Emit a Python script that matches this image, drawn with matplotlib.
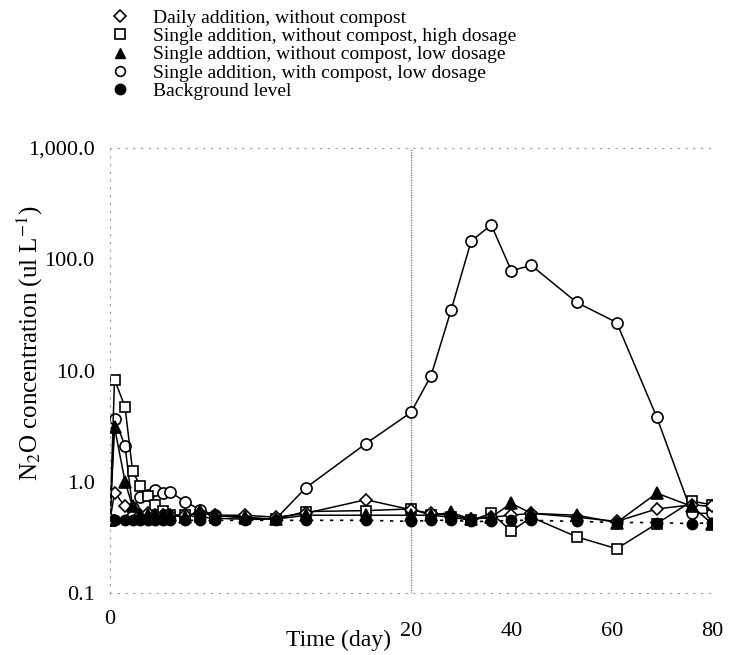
import numpy as np
import matplotlib
matplotlib.use('Agg')
import matplotlib.pyplot as plt
from matplotlib.lines import Line2D
from matplotlib.ticker import NullLocator

plt.rcParams['font.family'] = 'serif'
plt.rcParams['font.serif'] = ['Liberation Serif', 'DejaVu Serif']
plt.rcParams['mathtext.fontset'] = 'stix'

# sampling days (axis is stretched 3x for the first 20 days)
days = [0, 0.3, 1, 1.5, 2, 2.5, 3, 3.5, 4, 5, 6, 7, 9, 11, 13, 17, 20,
        24, 28, 32, 36, 40, 44, 53, 61, 69, 76, 80]

# N2O concentration (ul/L)
daily = [0.45, 0.80, 0.60, 0.50, 0.50, 0.52, 0.50, 0.50, 0.50, 0.50, 0.52, 0.50, 0.50, 0.48,
         0.52, 0.69, 0.56, 0.52, 0.50, 0.46, 0.48, 0.50, 0.52, 0.48, 0.44, 0.57, 0.62, 0.60]
high = [0.45, 8.3, 4.7, 1.25, 0.92, 0.75, 0.62, 0.55, 0.50, 0.50, 0.48, 0.47, 0.46, 0.46,
        0.54, 0.55, 0.57, 0.50, 0.48, 0.45, 0.52, 0.36, 0.48, 0.32, 0.25, 0.42, 0.67, 0.62]
low = [0.45, 3.1, 1.0, 0.60, 0.50, 0.50, 0.50, 0.50, 0.50, 0.48, 0.55, 0.50, 0.48, 0.46,
       0.50, 0.50, 0.50, 0.50, 0.53, 0.46, 0.48, 0.64, 0.52, 0.50, 0.43, 0.79, 0.60, 0.42]
compost = [0.45, 3.7, 2.1, 0.58, 0.73, 0.76, 0.85, 0.80, 0.81, 0.66, 0.56, 0.50, 0.47, 0.46,
           0.88, 2.2, 4.2, 9.0, 35, 146, 203, 79, 88, 41, 27, 3.8, 0.52, 0.52]
background = [0.45, 0.45, 0.45, 0.45, 0.45, 0.45, 0.45, 0.45, 0.45, 0.45, 0.45, 0.45, 0.45, 0.45,
              0.45, 0.45, 0.44, 0.45, 0.45, 0.44, 0.44, 0.45, 0.45, 0.44, 0.43, 0.43, 0.42, 0.43]

labels = ['Daily addition, without compost',
          'Single addition, without compost, high dosage',
          'Single addtion, without compost, low dosage',
          'Single addition, with compost, low dosage',
          'Background level']

xtick_vals = [20, 40, 60, 80]
ytick_vals = [0.1, 1, 10, 100, 1000]
ytick_labels = ['0.1', '1.0', '10.0', '100.0', '1,000.0']


def fwd(x):
    x = np.asarray(x, dtype=float)
    return np.where(x <= 20, 3 * x, x + 40)


def inv(u):
    u = np.asarray(u, dtype=float)
    return np.where(u <= 60, u / 3, u - 40)


fig = plt.figure(figsize=(7.37, 6.55), dpi=100)
ax = fig.add_axes([110 / 737, 1 - 593 / 655, 602 / 737, 445 / 655])
ax.set_xscale('function', functions=(fwd, inv))
ax.set_yscale('log')

line_kw = dict(color='black', lw=1.1, mec='black', mew=1.2)
ax.plot(days, compost, marker='o', mfc='white', ms=8, **line_kw)
ax.plot(days, high, marker='s', mfc='white', ms=7.5, **line_kw)
ax.plot(days, daily, marker='D', mfc='white', ms=6.5, **line_kw)
ax.plot(days, low, marker='^', mfc='black', ms=8, **line_kw)
ax.plot(days, background, marker='o', mfc='black', ms=7.5, color='black', lw=1.2,
        ls=(0, (2, 4)), mec='black')

ax.axvline(20, color='#777777', lw=0.9, ls=(0, (1, 1)), zorder=0)

ax.set_xlim(0, 80)
ax.set_ylim(0.1, 1000)
ax.set_xticks(xtick_vals)
ax.set_xticklabels([str(v) for v in xtick_vals])
ax.set_yticks(ytick_vals)
ax.set_yticklabels(ytick_labels)
ax.yaxis.set_minor_locator(NullLocator())
ax.xaxis.set_minor_locator(NullLocator())
ax.tick_params(length=0, labelsize=16)
ax.tick_params(axis='y', pad=11)
ax.tick_params(axis='x', pad=21)
ax.text(0, -27 / 445, '0', transform=ax.get_xaxis_transform(), ha='center', va='center', fontsize=16)

for side in ['top', 'bottom', 'left']:
    ax.spines[side].set_color('#999999')
    ax.spines[side].set_linestyle((0, (1, 6)))
    ax.spines[side].set_linewidth(0.8)
ax.spines['right'].set_visible(False)

handles = [
    Line2D([], [], ls='none', marker='D', mfc='white', mec='black', mew=1.2, ms=6.5),
    Line2D([], [], ls='none', marker='s', mfc='white', mec='black', mew=1.2, ms=7),
    Line2D([], [], ls='none', marker='^', mfc='black', mec='black', ms=7.5),
    Line2D([], [], ls='none', marker='o', mfc='white', mec='black', mew=1.2, ms=7),
    Line2D([], [], ls='none', marker='o', mfc='black', mec='black', ms=7.5),
]
fig.legend(handles, labels, loc='upper left', bbox_to_anchor=(110 / 737, 1 - 9 / 655),
           frameon=False, fontsize=14, handlelength=1.0, handletextpad=1.2,
           labelspacing=0.04, borderpad=0, borderaxespad=0)

fig.text(338 / 737, 1 - 640 / 655, 'Time (day)', ha='center', va='center', fontsize=17)
fig.text(30 / 737, 1 - 343 / 655, r'N$_2$O concentration (ul L$^{-1}$)', rotation=90,
         ha='center', va='center', fontsize=18)

fig.savefig('out.png', dpi=100)
